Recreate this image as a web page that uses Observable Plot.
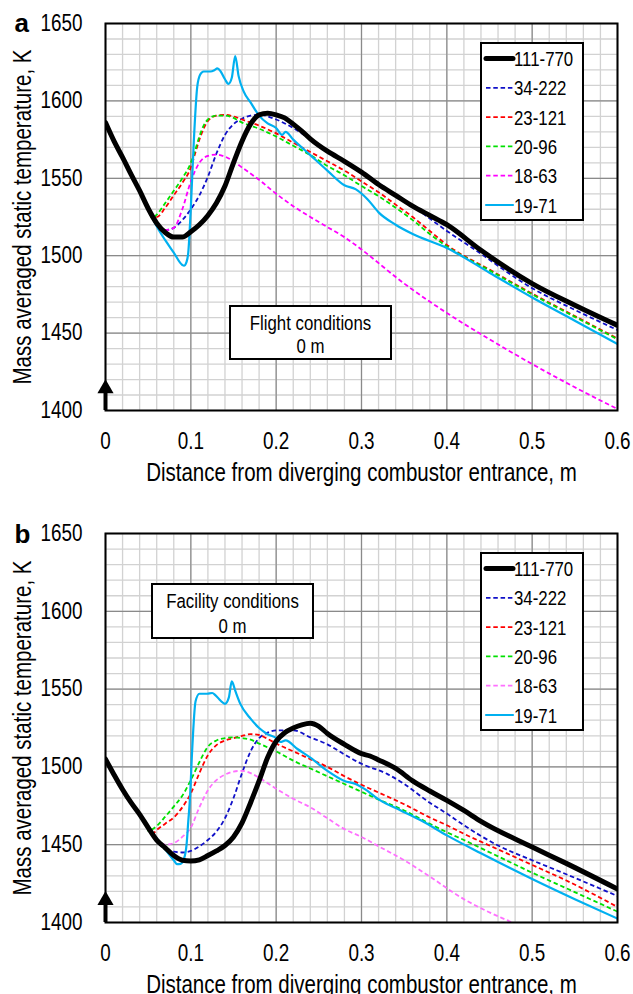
<!DOCTYPE html>
<html>
<head>
<meta charset="utf-8">
<script src="https://cdn.jsdelivr.net/npm/d3@7"></script>
<script src="https://cdn.jsdelivr.net/npm/@observablehq/plot@0.6"></script>
<style>
  html, body { margin: 0; padding: 0; background: #fff; }
  #wrap { width: 633px; }
  #wrap svg { display: block; }
</style>
</head>
<body>
<div id="wrap"></div>
<script>
// ---------- axis / tick data ----------
const xTicks = [0, 0.1, 0.2, 0.3, 0.4, 0.5, 0.6];
const xTickLabels = ["0", "0.1", "0.2", "0.3", "0.4", "0.5", "0.6"];
const yTicks = [1400, 1450, 1500, 1550, 1600, 1650];
const yTickLabels = ["1400", "1450", "1500", "1550", "1600", "1650"];
const xTitle = "Distance from diverging combustor entrance, m";
const yTitle = "Mass averaged static temperature, K";
const seriesNames = ["111-770", "34-222", "23-121", "20-96", "18-63", "19-71"];
const arrowData = [{x: 0, base: 1400, tip: 1420}];

// ---------- Panel a: Flight conditions, 0 m ----------
const a_common = [[0,1586],[0.01,1574],[0.02,1563.5],[0.03,1552.5],[0.04,1542],[0.05,1530.5]];
const a_111_770 = [[0.06,1521],[0.07,1515],[0.08,1512],[0.09,1512],[0.1,1515.5],[0.11,1520],[0.12,1526],[0.13,1534],[0.14,1545],[0.15,1560],[0.16,1574],[0.17,1585],[0.18,1591],[0.19,1592],[0.2,1591],[0.21,1589],[0.22,1585],[0.23,1580.5],[0.24,1575.5],[0.26,1567.5],[0.28,1561],[0.3,1554],[0.32,1546],[0.34,1539],[0.36,1532],[0.38,1526],[0.4,1520],[0.44,1503.5],[0.5,1482],[0.55,1468],[0.6,1455]];
const a_34_222 = [[0.06,1520],[0.07,1516.5],[0.08,1518],[0.09,1523],[0.1,1530],[0.11,1539],[0.12,1551],[0.13,1566],[0.14,1578],[0.15,1585],[0.16,1588.5],[0.17,1590.5],[0.18,1591],[0.2,1588],[0.22,1582.5],[0.24,1575.5],[0.26,1568],[0.28,1561.5],[0.3,1554.5],[0.32,1547],[0.34,1539],[0.36,1532],[0.38,1524],[0.4,1516],[0.43,1505],[0.5,1479],[0.55,1465],[0.6,1452]];
const a_23_121 = [[0.055,1525],[0.06,1525],[0.07,1531],[0.08,1539],[0.09,1547],[0.1,1557],[0.105,1566],[0.11,1575],[0.115,1582],[0.12,1587],[0.13,1590.5],[0.14,1591],[0.15,1590],[0.16,1588],[0.17,1586],[0.18,1584],[0.2,1579],[0.22,1573],[0.24,1567],[0.26,1561],[0.28,1555],[0.3,1548],[0.32,1541],[0.34,1533],[0.36,1525],[0.38,1516],[0.4,1507],[0.45,1491],[0.5,1475.5],[0.55,1461],[0.6,1446.5]];
const a_20_96 = [[0.055,1524],[0.06,1526.5],[0.07,1534],[0.08,1542],[0.09,1550],[0.1,1560],[0.105,1568],[0.11,1577],[0.115,1584],[0.12,1588],[0.13,1590.5],[0.14,1590.5],[0.15,1589],[0.16,1586],[0.17,1584],[0.18,1582],[0.2,1577],[0.22,1571],[0.24,1565],[0.26,1558],[0.28,1552],[0.3,1545],[0.32,1538.5],[0.34,1531],[0.36,1523],[0.38,1514],[0.4,1506],[0.45,1490.5],[0.5,1475],[0.55,1460.5],[0.6,1446]];
const a_18_63 = [[0.06,1520],[0.07,1516.5],[0.08,1518],[0.09,1530],[0.1,1548],[0.11,1560],[0.12,1564.5],[0.13,1565.3],[0.14,1564],[0.15,1561],[0.16,1557],[0.18,1549],[0.2,1540],[0.22,1532],[0.24,1525],[0.26,1518.5],[0.28,1512],[0.3,1504],[0.35,1482],[0.4,1463],[0.45,1446],[0.5,1430],[0.55,1415],[0.6,1401]];
const a_19_71 = [[0.06,1519],[0.07,1510],[0.08,1502],[0.09,1494],[0.092,1493.5],[0.095,1496],[0.097,1502],[0.1,1531],[0.1035,1574],[0.1075,1609],[0.111,1617],[0.115,1619],[0.123,1619],[0.128,1620],[0.131,1621],[0.135,1619],[0.14,1614],[0.144,1611],[0.148,1615],[0.152,1629],[0.156,1616],[0.162,1606],[0.17,1599],[0.18,1590.5],[0.19,1585.5],[0.2,1582.5],[0.207,1578],[0.211,1580],[0.22,1575],[0.24,1565],[0.26,1555],[0.28,1545.5],[0.293,1543],[0.307,1536.5],[0.32,1528],[0.34,1520],[0.36,1514],[0.4,1505],[0.45,1489],[0.5,1473],[0.55,1458],[0.6,1443]];

// ---------- Panel b: Facility conditions, 0 m ----------
const b_common = [[0,1505],[0.01,1495],[0.02,1485.5],[0.03,1477],[0.04,1469.5],[0.05,1461]];
const b_111_770 = [[0.06,1453],[0.07,1448],[0.08,1443],[0.09,1440],[0.1,1439.5],[0.11,1440.3],[0.12,1443],[0.13,1446],[0.14,1449.5],[0.15,1455],[0.16,1464],[0.17,1477],[0.18,1491],[0.19,1506],[0.2,1516.5],[0.21,1522],[0.22,1525],[0.23,1527],[0.24,1528],[0.25,1526],[0.26,1521.5],[0.28,1514.5],[0.3,1508.5],[0.31,1507],[0.32,1504.5],[0.34,1499],[0.36,1491],[0.38,1484.5],[0.4,1478.5],[0.42,1472],[0.44,1465],[0.5,1448.5],[0.54,1438],[0.6,1421.5]];
const b_34_222 = [[0.06,1452],[0.07,1447.5],[0.08,1445.5],[0.09,1445],[0.1,1446],[0.11,1449],[0.12,1453],[0.13,1458.5],[0.14,1467],[0.15,1480],[0.16,1496],[0.17,1510],[0.18,1518.5],[0.19,1522],[0.2,1523.5],[0.22,1523.5],[0.24,1519],[0.26,1514.5],[0.28,1508],[0.3,1502],[0.33,1495.5],[0.35,1489],[0.38,1477],[0.4,1470],[0.42,1462.5],[0.46,1449.5],[0.5,1440],[0.54,1431],[0.6,1417]];
const b_23_121 = [[0.055,1457],[0.06,1459.5],[0.07,1463.5],[0.08,1467.5],[0.09,1474],[0.1,1483],[0.11,1496],[0.12,1507.5],[0.13,1514],[0.14,1517],[0.15,1518.5],[0.16,1520],[0.17,1521],[0.18,1520.5],[0.19,1518],[0.2,1515],[0.22,1510],[0.24,1505],[0.26,1500],[0.28,1494],[0.3,1488.5],[0.32,1483.5],[0.35,1476],[0.38,1467.5],[0.4,1462.5],[0.42,1457],[0.46,1447],[0.5,1437],[0.54,1427],[0.6,1410]];
const b_20_96 = [[0.05,1459],[0.06,1462],[0.07,1468],[0.08,1474.5],[0.09,1481.5],[0.1,1491.5],[0.11,1503],[0.12,1513],[0.13,1517],[0.14,1518.5],[0.15,1519],[0.16,1518.5],[0.17,1517.5],[0.18,1515],[0.2,1510],[0.22,1504],[0.24,1499],[0.26,1494],[0.28,1489],[0.3,1484],[0.32,1479],[0.35,1472],[0.38,1463.5],[0.4,1458],[0.42,1453],[0.46,1442.5],[0.5,1432],[0.54,1422],[0.6,1407]];
const b_18_63 = [[0.06,1452],[0.07,1450],[0.08,1451],[0.09,1455],[0.1,1461],[0.11,1474],[0.12,1485],[0.13,1491.5],[0.14,1495],[0.15,1497],[0.16,1497.5],[0.17,1496],[0.18,1493],[0.2,1486],[0.22,1479.5],[0.24,1474],[0.26,1467],[0.28,1460],[0.3,1455],[0.32,1449],[0.35,1440],[0.38,1429.5],[0.42,1415],[0.45,1406.5],[0.48,1399],[0.5,1393]];
const b_19_71 = [[0.06,1454],[0.07,1447],[0.08,1440],[0.084,1437.5],[0.088,1437.7],[0.092,1441],[0.095,1450],[0.097,1465],[0.099,1480],[0.1015,1510],[0.1055,1542],[0.11,1547],[0.119,1547],[0.125,1547.5],[0.129,1546],[0.135,1542.5],[0.14,1540.5],[0.1445,1544.5],[0.148,1555],[0.152,1549],[0.158,1540.5],[0.17,1531],[0.18,1525],[0.19,1521],[0.2,1518.5],[0.205,1516],[0.211,1517],[0.225,1511.5],[0.24,1506],[0.26,1497.5],[0.28,1491],[0.293,1489],[0.303,1486],[0.322,1478.5],[0.346,1472],[0.37,1465.5],[0.4,1456],[0.44,1444.5],[0.5,1428],[0.55,1415],[0.6,1402.5]];

// ---------- styles ----------
const FONT = "'Liberation Sans', Arial, sans-serif";
const NARROW = 0.82; // horizontal squeeze to mimic a narrow sans face
const styleA = [
  {stroke: "#000000", strokeWidth: 5, dash: null},
  {stroke: "#1010c8", strokeWidth: 1.8, dash: "4.5,2.8"},
  {stroke: "#ff0000", strokeWidth: 1.8, dash: "4.5,2.8"},
  {stroke: "#00e000", strokeWidth: 1.8, dash: "4.5,2.8"},
  {stroke: "#ff00ff", strokeWidth: 1.8, dash: "4.5,2.8"},
  {stroke: "#00b0f0", strokeWidth: 2.2, dash: null}
];
const styleB = styleA.map((s, i) => i === 4 ? {...s, stroke: "#ff70ff"} : s);

function rows(common, pts) {
  return common.concat(pts).map(([x, t]) => ({x, t}));
}

function makePanel(cfg) {
  const {series, styles, mt, mb, label, note, noteBox, legendTop} = cfg;
  const height = 497;
  const order = [1, 2, 3, 4, 5, 0];
  const lineMarks = order.map(i => {
    const s = styles[i];
    return Plot.line(series[i], {
      x: "x", y: "t", curve: "monotone-x",
      stroke: s.stroke, strokeWidth: s.strokeWidth,
      strokeDasharray: s.dash || undefined,
      strokeLinejoin: "round", strokeLinecap: s.dash ? "butt" : "round",
      clip: true
    });
  });
  const plot = Plot.plot({
    width: 633, height,
    marginTop: mt, marginBottom: mb, marginLeft: 105, marginRight: 16,
    style: {fontFamily: FONT, fontSize: "23px", color: "#000", background: "#fff", overflow: "visible"},
    x: {domain: [0, 0.6], ticks: xTicks, tickFormat: (d, i) => xTickLabels[i], tickSize: 0, tickPadding: 22, label: null},
    y: {domain: [1400, 1650], ticks: yTicks, tickFormat: (d, i) => yTickLabels[i], tickSize: 0, tickPadding: 23, label: null},
    marks: [
      Plot.gridX(d3.range(0, 0.6001, 0.02), {stroke: "#d2d2d2", strokeOpacity: 1, strokeWidth: 1.3}),
      Plot.gridY(d3.range(1400, 1650.1, 10), {stroke: "#d2d2d2", strokeOpacity: 1, strokeWidth: 1.3}),
      Plot.gridX(xTicks, {stroke: "#8a8a8a", strokeOpacity: 1, strokeWidth: 1.2}),
      Plot.gridY(yTicks, {stroke: "#8a8a8a", strokeOpacity: 1, strokeWidth: 1.2}),
      ...lineMarks,
      Plot.frame({stroke: "#000", strokeWidth: 2}),
      Plot.ruleX(arrowData, {x: "x", y1: "base", y2: d => d.tip - 6, stroke: "#000", strokeWidth: 4}),
      Plot.dot(arrowData, {x: "x", y: "tip", symbol: "triangle", r: 6, fill: "#000", stroke: "none", dy: 9}),
      Plot.text([xTitle], {frameAnchor: "bottom", dy: 62, fontSize: 25, fill: "#000", textAnchor: "middle", lineAnchor: "middle"}),
      Plot.text([yTitle], {frameAnchor: "left", dx: -83, rotate: -90, fontSize: 25, fill: "#000", textAnchor: "middle", lineAnchor: "middle"}),
      Plot.text([label], {frameAnchor: "top-left", dx: -91, dy: cfg.labelDy, fontSize: 26, fontWeight: "bold", textAnchor: "start", lineAnchor: "middle", fill: "#000", className: "panel-label"})
    ]
  });

  const svg = d3.select(plot);
  const top = mt;
  // annotation box
  const nb = svg.append("g");
  nb.append("rect").attr("x", noteBox.x).attr("y", top + noteBox.y).attr("width", noteBox.w).attr("height", noteBox.h)
    .attr("fill", "#fff").attr("stroke", "#000").attr("stroke-width", 2);
  note.forEach((line, i) => {
    nb.append("text").attr("x", noteBox.x + noteBox.w / 2).attr("y", top + noteBox.y + 16 + i * noteBox.gap)
      .attr("text-anchor", "middle").attr("dominant-baseline", "central")
      .attr("font-family", FONT).attr("font-size", 20.5).attr("fill", "#000").text(line);
  });
  // legend
  const lg = svg.append("g");
  lg.append("rect").attr("x", 481).attr("y", top + legendTop).attr("width", 102).attr("height", 177)
    .attr("fill", "#fff").attr("stroke", "#000").attr("stroke-width", 2);
  seriesNames.forEach((name, i) => {
    const y = top + legendTop + 15.5 + i * 29.3;
    const s = styles[i];
    lg.append("line").attr("x1", 486).attr("x2", 513).attr("y1", y).attr("y2", y)
      .attr("stroke", s.stroke).attr("stroke-width", s.strokeWidth)
      .attr("stroke-dasharray", s.dash).attr("stroke-linecap", s.dash ? "butt" : "round");
    lg.append("text").attr("x", 514).attr("y", y).attr("text-anchor", "start").attr("dominant-baseline", "central")
      .attr("font-family", FONT).attr("font-size", 20.5).attr("fill", "#000").text(name);
  });
  return plot;
}

const wrap = document.getElementById("wrap");
const svgs = [
  makePanel({
    series: [a_111_770, a_34_222, a_23_121, a_20_96, a_18_63, a_19_71].map(p => rows(a_common, p)),
    styles: styleA, mt: 23, mb: 87, label: "a", labelDy: 0,
    note: ["Flight conditions", "0 m"], noteBox: {x: 230, y: 283, w: 161, h: 53, gap: 23},
    legendTop: 20
  }),
  makePanel({
    series: [b_111_770, b_34_222, b_23_121, b_20_96, b_18_63, b_19_71].map(p => rows(b_common, p)),
    styles: styleB, mt: 36, mb: 72, label: "b", labelDy: 1,
    note: ["Facility conditions", "0 m"], noteBox: {x: 152, y: 51, w: 161, h: 54, gap: 25},
    legendTop: 20
  })
];
svgs.forEach(s => wrap.appendChild(s));

// squeeze text horizontally (narrow-face look) once it is laid out
svgs.forEach(s => {
  s.querySelectorAll("text").forEach(t => {
    if (t.closest(".panel-label")) return;
    const targets = t.querySelectorAll("tspan").length ? t.querySelectorAll("tspan") : [t];
    targets.forEach(el => {
      const len = el.getComputedTextLength();
      if (len > 0) {
        el.setAttribute("textLength", (len * NARROW).toFixed(2));
        el.setAttribute("lengthAdjust", "spacingAndGlyphs");
      }
    });
  });
});
</script>
</body>
</html>
